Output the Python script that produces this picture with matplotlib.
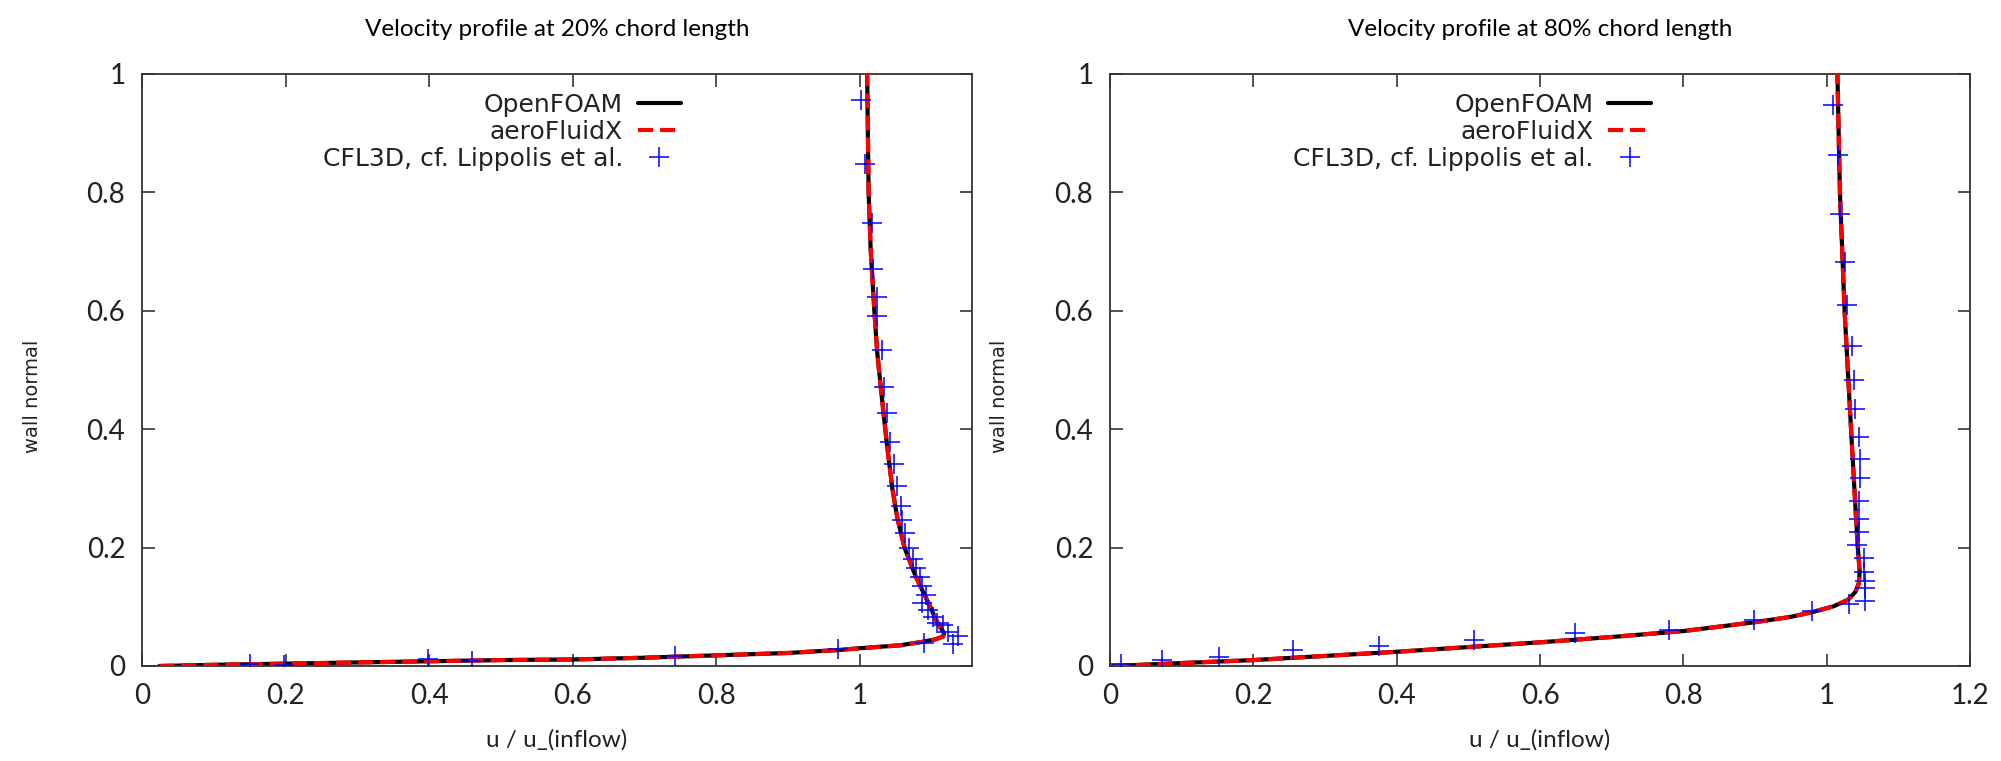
import matplotlib
matplotlib.use("Agg")
import matplotlib.pyplot as plt
from matplotlib.ticker import FuncFormatter, MultipleLocator

# ---------------- data ----------------
titles = ["Velocity profile at 20% chord length", "Velocity profile at 80% chord length"]
series_names = ["OpenFOAM", "aeroFluidX", "CFL3D, cf. Lippolis et al."]
xlabel_text = "u / u_(inflow)"
ylabel_text = "wall normal"

# 20% chord: simulation curve (OpenFOAM ~ aeroFluidX)
u20_line = [0.024, 0.1, 0.2, 0.3, 0.4, 0.5, 0.6, 0.7, 0.8, 0.9, 0.97, 1.0, 1.056, 1.088,
            1.105, 1.116, 1.117, 1.112, 1.105, 1.098, 1.09, 1.078, 1.062, 1.052, 1.045,
            1.037, 1.029, 1.024, 1.02, 1.015, 1.012, 1.011, 1.01]
y20_line = [0.0, 0.002, 0.004, 0.006, 0.008, 0.010, 0.011, 0.014, 0.018, 0.022, 0.027, 0.030,
            0.035, 0.041, 0.045, 0.050, 0.056, 0.065, 0.08, 0.10, 0.12, 0.15, 0.20, 0.25,
            0.30, 0.38, 0.47, 0.53, 0.60, 0.70, 0.80, 0.90, 1.0]
# 20% chord: CFL3D reference points
u20_ref = [0.150, 0.198, 0.399, 0.460, 0.743, 0.969, 1.089, 1.130, 1.137, 1.123, 1.116,
           1.107, 1.102, 1.095, 1.086, 1.092, 1.087, 1.083, 1.078, 1.074, 1.068, 1.063,
           1.059, 1.057, 1.051, 1.048, 1.042, 1.037, 1.034, 1.030, 1.023, 1.023, 1.018,
           1.017, 1.007, 1.001]
y20_ref = [0.003, 0.002, 0.011, 0.009, 0.017, 0.028, 0.039, 0.038, 0.051, 0.058, 0.069,
           0.072, 0.083, 0.095, 0.106, 0.120, 0.135, 0.150, 0.165, 0.180, 0.200, 0.225,
           0.247, 0.270, 0.304, 0.342, 0.378, 0.428, 0.472, 0.533, 0.591, 0.624, 0.671,
           0.748, 0.848, 0.956]

# 80% chord: simulation curve
u80_line = [0.005, 0.1, 0.2, 0.3, 0.4, 0.5, 0.6, 0.7, 0.8, 0.9, 0.95, 0.98, 1.01, 1.03,
            1.04, 1.045, 1.046, 1.0435, 1.041, 1.034, 1.025, 1.0185, 1.015]
y80_line = [0.0, 0.005, 0.010, 0.017, 0.024, 0.032, 0.040, 0.049, 0.059, 0.074, 0.083,
            0.091, 0.101, 0.112, 0.125, 0.14, 0.16, 0.20, 0.25, 0.40, 0.60, 0.80, 1.0]
# 80% chord: CFL3D reference points
u80_ref = [0.015, 0.072, 0.152, 0.255, 0.376, 0.508, 0.649, 0.780, 0.899, 0.980, 1.031,
           1.054, 1.054, 1.054, 1.052, 1.052, 1.043, 1.045, 1.045, 1.045, 1.046, 1.047,
           1.045, 1.040, 1.038, 1.036, 1.029, 1.026, 1.0185, 1.016, 1.009]
y80_ref = [0.003, 0.010, 0.016, 0.027, 0.033, 0.044, 0.055, 0.061, 0.077, 0.093, 0.105,
           0.110, 0.131, 0.143, 0.159, 0.183, 0.205, 0.227, 0.249, 0.279, 0.318, 0.350,
           0.387, 0.434, 0.483, 0.541, 0.609, 0.682, 0.763, 0.864, 0.948]

x_limits = [(0, 1.156), (0, 1.2)]

text_font, text_size, tick_size = "Lato", 17.5, 20

# ---------------- figure ----------------
fig = plt.figure(figsize=(20.01, 7.61), dpi=100)
ax_rects = [[142 / 2001, 1 - 666 / 761, 830 / 2001, 592 / 761],
            [1110 / 2001, 1 - 666 / 761, 860 / 2001, 592 / 761]]
legend_anchor = [(0.676, 1.006), (0.655, 1.006)]
ylabel_x = [-0.12, -0.117]

data = [(u20_line, y20_line, u20_ref, y20_ref), (u80_line, y80_line, u80_ref, y80_ref)]
fmt = FuncFormatter(lambda v, p: f"{v:g}")
spine_col = "#333333"

for i, (ul, yl, ur, yr) in enumerate(data):
    ax = fig.add_axes(ax_rects[i])
    ax.plot(ul, yl, color="black", lw=3.0, solid_capstyle="round", label=series_names[0], zorder=2)
    ax.plot(ur, yr, linestyle="none", marker="+", markersize=15, markeredgewidth=1.1,
            color="#0000ff", label=series_names[2], zorder=4)
    ax.plot(ul, yl, color="#ff0000", lw=3.0, dashes=(3.6, 1.7), label=series_names[1], zorder=3)
    ax.set_xlim(*x_limits[i])
    ax.set_ylim(0, 1)
    ax.xaxis.set_major_locator(MultipleLocator(0.2))
    ax.yaxis.set_major_locator(MultipleLocator(0.2))
    ax.xaxis.set_major_formatter(fmt)
    ax.yaxis.set_major_formatter(fmt)
    ax.tick_params(direction="in", length=9, width=1.2, color=spine_col,
                   top=True, right=True, labelsize=tick_size, pad=12)
    for lab in ax.get_xticklabels() + ax.get_yticklabels():
        lab.set_fontfamily(text_font)
        lab.set_color("#222222")
    for s in ax.spines.values():
        s.set_linewidth(1.3)
        s.set_color(spine_col)
    ax.set_title(titles[i], fontsize=text_size, family=text_font, pad=27, color="black")
    ax.set_xlabel(xlabel_text, fontsize=text_size, family=text_font, labelpad=15, color="#222222")
    ax.set_ylabel(ylabel_text, fontsize=14, family="DejaVu Sans", color="#222222")
    ax.yaxis.set_label_coords(ylabel_x[i], 0.456)

    h, l = ax.get_legend_handles_labels()
    order = [0, 2, 1]
    leg = ax.legend([h[k] for k in order], [l[k] for k in order], loc="upper right",
                    bbox_to_anchor=legend_anchor[i], frameon=False, markerfirst=False,
                    handlelength=1.7, handletextpad=0.6, labelspacing=0.12,
                    prop={"family": "DejaVu Sans", "size": 18})
    for t in leg.get_texts():
        t.set_color("#222222")

fig.savefig("out.png", dpi=100)
